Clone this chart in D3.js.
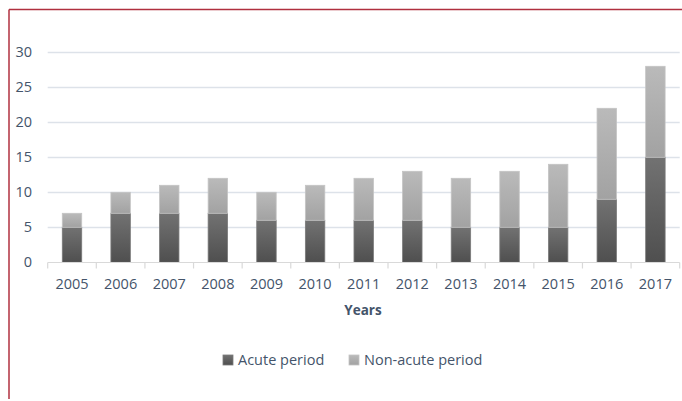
<!DOCTYPE html>
<html>
<head>
<meta charset="utf-8">
<script src="https://cdn.jsdelivr.net/npm/d3@7"></script>
<style>
  body { margin: 0; background: #fff; }
  text { font-family: "Open Sans", sans-serif; fill: #44546a; }
</style>
</head>
<body>
<div id="chart"></div>
<script>
// data
const years = ["2005","2006","2007","2008","2009","2010","2011","2012","2013","2014","2015","2016","2017"];
const acute = [5, 7, 7, 7, 6, 6, 6, 6, 5, 5, 5, 9, 15];
const nonAcute = [2, 3, 4, 5, 4, 5, 6, 7, 7, 8, 9, 13, 13];
const yTicks = [0, 5, 10, 15, 20, 25, 30];
const seriesNames = ["Acute period", "Non-acute period"];

const W = 682, H = 401;
const margin = {top: 52, right: 2, bottom: 139, left: 47.7};

const svg = d3.select("#chart")
  .append("svg")
    .attr("width", W)
    .attr("height", H);

// gradients for the bar segments
const defs = svg.append("defs");
const grads = [
  {id: "gAcute", top: "#727272", bottom: "#4f4f4f"},
  {id: "gNon", top: "#bababa", bottom: "#a2a2a2"}
];
grads.forEach(g => {
  const lg = defs.append("linearGradient")
    .attr("id", g.id).attr("x1", 0).attr("y1", 0).attr("x2", 0).attr("y2", 1);
  lg.append("stop").attr("offset", "0%").attr("stop-color", g.top);
  lg.append("stop").attr("offset", "100%").attr("stop-color", g.bottom);
});

// frame (top and left lines)
svg.append("line").attr("x1", 9).attr("x2", W).attr("y1", 9.5).attr("y2", 9.5)
  .attr("stroke", "#b0303f").attr("stroke-width", 1.5);
svg.append("line").attr("x1", 9).attr("x2", 9).attr("y1", 9.5).attr("y2", 399)
  .attr("stroke", "#b0303f").attr("stroke-width", 1.5);

const x = d3.scaleBand()
  .domain(years)
  .range([47.7, 679.7])
  .paddingInner(0.6)
  .paddingOuter(0.3);

const y = d3.scaleLinear()
  .domain([0, 30])
  .range([262.3, 52.3]);

// gridlines
svg.append("g")
  .selectAll("line")
  .data(yTicks.filter(d => d > 0))
  .join("line")
    .attr("x1", 47.7)
    .attr("x2", 679.7)
    .attr("y1", d => Math.round(y(d)) + 0.5)
    .attr("y2", d => Math.round(y(d)) + 0.5)
    .attr("stroke", "#dde2e9")
    .attr("stroke-width", 1.5);

// y labels
svg.append("g")
  .selectAll("text")
  .data(yTicks)
  .join("text")
    .attr("x", 32)
    .attr("y", d => y(d))
    .attr("dy", "0.35em")
    .attr("text-anchor", "end")
    .attr("font-size", "14.5px")
    .text(d => d);

// stacked data
const table = years.map((yr, i) => ({year: yr, acute: acute[i], non: nonAcute[i]}));
const stack = d3.stack().keys(["acute", "non"])(table);
const fills = ["url(#gAcute)", "url(#gNon)"];
const edges = ["#7a7a7a", "#c4c4c4"];

svg.append("g")
  .selectAll("g")
  .data(stack)
  .join("g")
    .attr("fill", (d, i) => fills[i])
    .attr("stroke", (d, i) => edges[i])
    .attr("stroke-width", 0.8)
  .selectAll("rect")
  .data(d => d)
  .join("rect")
    .attr("x", d => x(d.data.year))
    .attr("y", d => y(d[1]))
    .attr("width", x.bandwidth())
    .attr("height", d => y(d[0]) - y(d[1]));

// x axis line and ticks
const axisY = Math.round(y(0)) + 0.5;
svg.append("line")
  .attr("x1", 47.7).attr("x2", 679.7)
  .attr("y1", axisY).attr("y2", axisY)
  .attr("stroke", "#d9d9d9").attr("stroke-width", 1.2);

const step = x.step();
svg.append("g")
  .selectAll("line")
  .data(d3.range(years.length + 1))
  .join("line")
    .attr("x1", i => 47.7 + i * step)
    .attr("x2", i => 47.7 + i * step)
    .attr("y1", axisY)
    .attr("y2", axisY + 6)
    .attr("stroke", "#d9d9d9")
    .attr("stroke-width", 1.2);

// year labels
svg.append("g")
  .selectAll("text")
  .data(years)
  .join("text")
    .attr("x", d => x(d) + x.bandwidth() / 2)
    .attr("y", 284)
    .attr("dy", "0.35em")
    .attr("text-anchor", "middle")
    .attr("font-size", "14.5px")
    .text(d => d);

// axis title
svg.append("text")
  .attr("x", 363)
  .attr("y", 310.5)
  .attr("dy", "0.35em")
  .attr("text-anchor", "middle")
  .attr("font-size", "13.5px")
  .attr("font-weight", "bold")
  .text("Years");

// legend
const legendX = [223, 349];
const lg = svg.append("g")
  .selectAll("g")
  .data(seriesNames)
  .join("g")
    .attr("transform", (d, i) => `translate(${legendX[i]}, 360)`);
lg.append("rect")
  .attr("x", 0).attr("y", -5)
  .attr("width", 10).attr("height", 10)
  .attr("fill", (d, i) => fills[i])
  .attr("stroke", (d, i) => edges[i])
  .attr("stroke-width", 0.8);
lg.append("text")
  .attr("x", 15)
  .attr("y", 0)
  .attr("dy", "0.35em")
  .attr("font-size", "14.5px")
  .text(d => d);
</script>
</body>
</html>
